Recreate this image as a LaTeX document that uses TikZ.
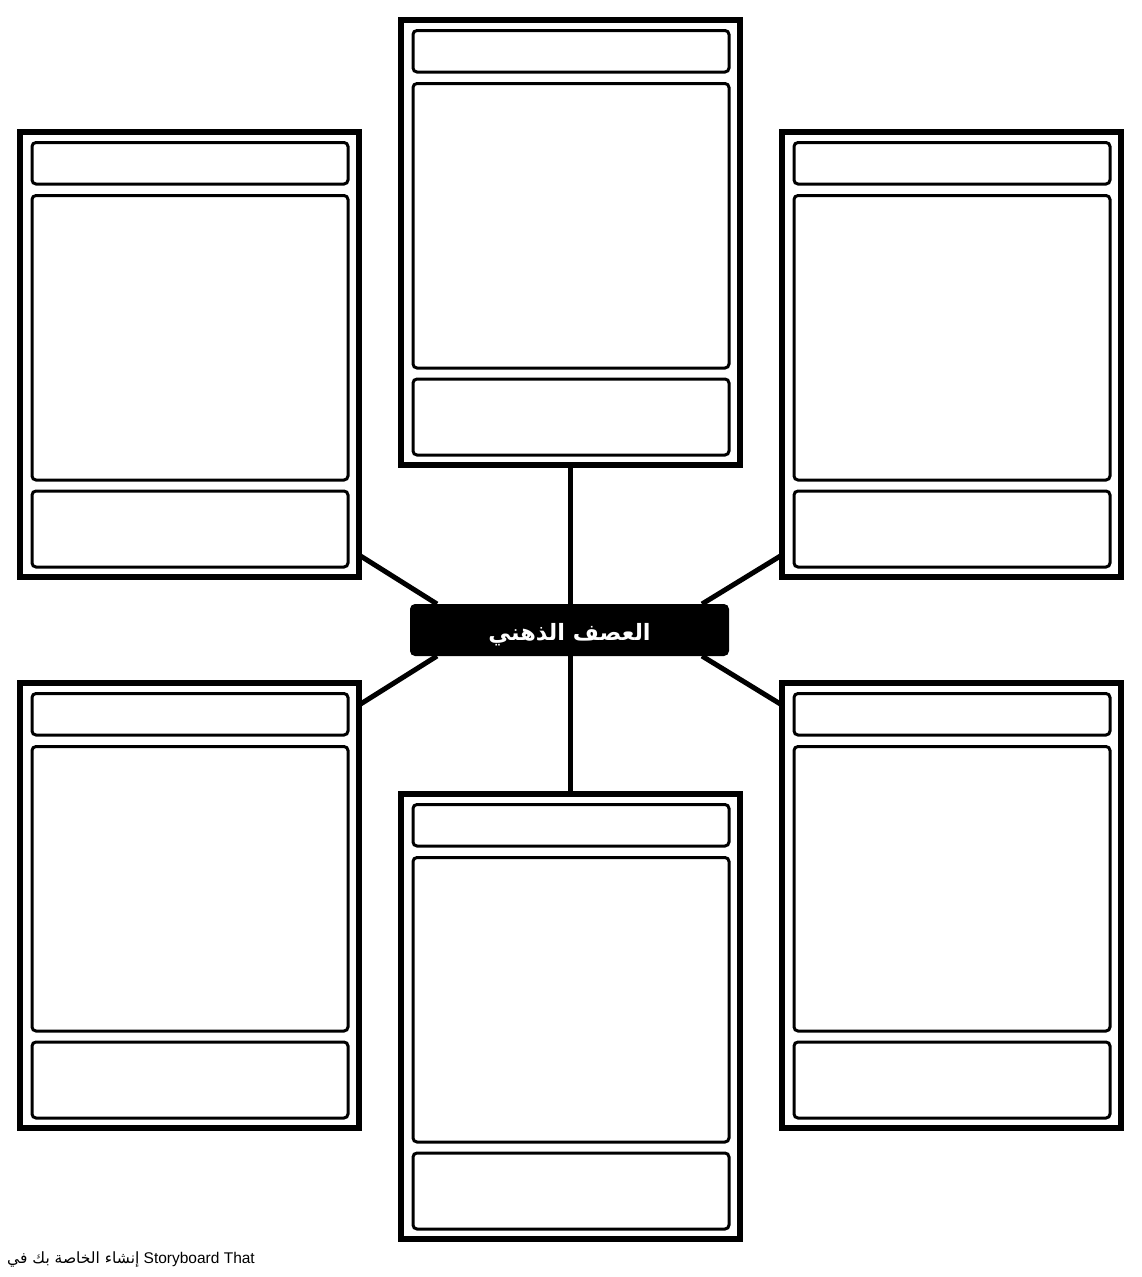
\documentclass[tikz,border=0pt]{standalone}
\usepackage{fontspec}
\setmainfont{Liberation Sans}
\newfontfamily\arabicfont[Script=Arabic]{DejaVu Sans}
\TeXXeTstate=1
\pgfdeclarelayer{background}
\pgfsetlayers{background,main}
\tikzset{
  frame/.style={draw=black, line width=5.5pt, fill=white, inner sep=0pt, outer sep=0pt,
    minimum width=339pt, minimum height=445pt, anchor=north west},
  pane/.style={draw=black, line width=3pt, rounded corners=4pt, inner sep=0pt, outer sep=0pt,
    minimum width=316pt, anchor=north west},
  link/.style={line width=5pt},
  hub/.style={fill=black, rounded corners=5pt, minimum width=319pt, minimum height=52pt,
    inner sep=0pt, outer sep=0pt},
}
\newcommand\mycard[2]{%
  \node[frame] (#1) at (#2) {};
  \node[pane, minimum height=41.5pt] (#1-h) at ($(#1.north west)+(12,10.5)$) {};
  \node[pane, minimum height=284.5pt] (#1-m) at ($(#1.north west)+(12,63.5)$) {};
  \node[pane, minimum height=76pt] (#1-f) at ($(#1.north west)+(12,359)$) {};
}
\usetikzlibrary{calc}
\begin{document}
\begin{tikzpicture}[x=1pt,y=-1pt]
\begin{pgfonlayer}{background}
\fill[white] (0,0) rectangle (1142,1277);
\end{pgfonlayer}
\useasboundingbox (0,0) rectangle (1142,1277);
\mycard{tc}{401,20}
\mycard{tl}{20,132}
\mycard{tr}{782,132}
\mycard{bl}{20,683}
\mycard{br}{782,683}
\mycard{bc}{401,794}
\node[hub, anchor=north west] (c) at (410,604) {};
\node[text=white, inner sep=0pt] (c-label) at ([yshift=-5pt]c.center) {\arabicfont\bfseries\fontsize{22.5}{26}\selectfont\beginR العصف الذهني\endR};
\begin{pgfonlayer}{background}
\draw[link] (tc.south) -- (tc.south |- c.center);
\draw[link] (bc.north) -- (bc.north |- c.center);
\draw[link] ([yshift=22pt]tl.south east) -- ([xshift=27pt]c.north west);
\draw[link] ([yshift=22pt]tr.south west) -- ([xshift=-27pt]c.north east);
\draw[link] ([yshift=-22pt]bl.north east) -- ([xshift=27pt]c.south west);
\draw[link] ([yshift=-22pt]br.north west) -- ([xshift=-27pt]c.south east);
\end{pgfonlayer}
\node[anchor=west, inner sep=0pt] (credit) at (7,1259) {\fontsize{15.5}{18}\selectfont\beginR{\arabicfont إنشاء الخاصة بك في}\endR{} Storyboard That};
\end{tikzpicture}
\end{document}
